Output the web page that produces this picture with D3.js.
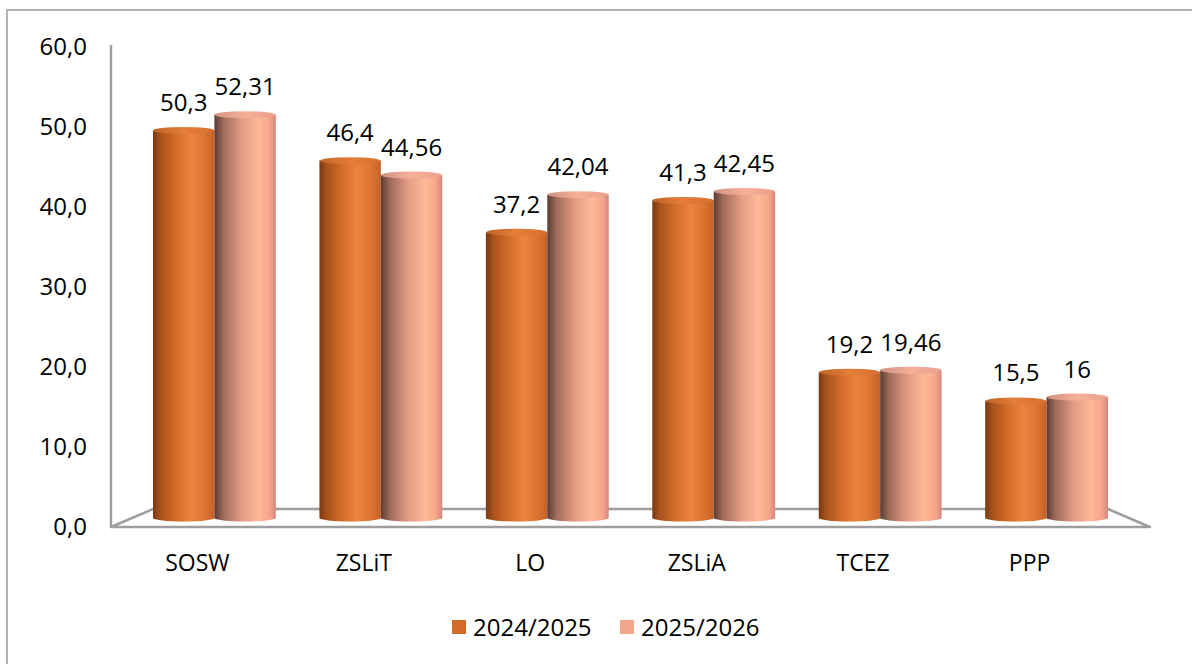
<!DOCTYPE html>
<html>
<head>
<meta charset="utf-8">
<script src="https://cdn.jsdelivr.net/npm/d3@7"></script>
<style>
  body { margin: 0; background: #fff; }
  text { font-family: "Open Sans", sans-serif; fill: #000; }
</style>
</head>
<body>
<script>
var categories = ["SOSW", "ZSLiT", "LO", "ZSLiA", "TCEZ", "PPP"];
var seriesNames = ["2024/2025", "2025/2026"];
var values2024 = [50.3, 46.4, 37.2, 41.3, 19.2, 15.5];
var values2025 = [52.31, 44.56, 42.04, 42.45, 19.46, 16];
var yTicks = [0, 10, 20, 30, 40, 50, 60];

var width = 1192, height = 664;

var svg = d3.select("body").append("svg")
    .attr("width", width)
    .attr("height", height);

// outer frame
svg.append("rect")
    .attr("x", 7).attr("y", 10)
    .attr("width", 1200).attr("height", 700)
    .attr("fill", "none")
    .attr("stroke", "#b3b3b3")
    .attr("stroke-width", 2);

var defs = svg.append("defs");

function grad(id, stops) {
    var g = defs.append("linearGradient").attr("id", id)
        .attr("x1", "0%").attr("x2", "100%").attr("y1", "0%").attr("y2", "0%");
    stops.forEach(function (s) {
        g.append("stop").attr("offset", s[0]).attr("stop-color", s[1]);
    });
}
grad("g1", [["0%", "#7a3810"], ["12%", "#a8521c"], ["35%", "#d06a28"], ["62%", "#ec853c"], ["85%", "#dc7230"], ["100%", "#c4622a"]]);
grad("g2", [["0%", "#5c3c32"], ["15%", "#a06c5c"], ["45%", "#e49c84"], ["72%", "#ffb898"], ["90%", "#f6a68a"], ["100%", "#d48680"]]);
grad("t1", [["0%", "#c06428"], ["50%", "#e47e3a"], ["100%", "#d47030"]]);
grad("t2", [["0%", "#d09280"], ["50%", "#f6b09a"], ["100%", "#eaa08a"]]);

// axis scale (front plane) and bar scale (mid depth)
var y = d3.scaleLinear().domain([0, 60]).range([527, 47]);
var yBar = d3.scaleLinear().domain([0, 60]).range([518, 51.5]);

var x = d3.scaleBand().domain(categories).range([153, 1108])
    .paddingInner(0.262).paddingOuter(0);
var xs = d3.scaleBand().domain([0, 1]).range([0, x.bandwidth()]);

// floor
var floorBack = 509;
var floor = [[111, y(0)], [153, floorBack], [1108, floorBack], [1150, y(0)]];
svg.append("path")
    .attr("d", d3.line()(floor) + "Z")
    .attr("fill", "#fff")
    .attr("stroke", "#9e9e9e")
    .attr("stroke-width", 2.5)
    .attr("stroke-linejoin", "round");

// y axis
var yAxis = svg.append("g")
    .attr("transform", "translate(111,0)")
    .call(d3.axisLeft(y).tickValues(yTicks).tickSize(0).tickPadding(24)
        .tickFormat(function (d) { return d3.format(".1f")(d).replace(".", ","); }));
yAxis.select(".domain").attr("stroke", "#9e9e9e").attr("stroke-width", 2.5)
    .attr("d", "M0," + (y(60) - 2) + "V" + y(0));
yAxis.selectAll("text").style("font-size", "24px").attr("fill", "#000");

// bars as cylinders
var series = [values2024, values2025];
var ry = 3.5;
series.forEach(function (vals, si) {
    var g = svg.append("g");
    categories.forEach(function (c, i) {
        var x0 = x(c) + xs(si);
        var w = xs.bandwidth();
        var cx = x0 + w / 2;
        var top = yBar(vals[i]) + ry;
        var bot = yBar(0);
        g.append("path")
            .attr("d", "M" + x0 + "," + top + "V" + bot +
                "A" + (w / 2) + "," + ry + " 0 0 0 " + (x0 + w) + "," + bot +
                "V" + top + "Z")
            .attr("fill", "url(#g" + (si + 1) + ")");
        g.append("ellipse")
            .attr("cx", cx).attr("cy", top)
            .attr("rx", w / 2).attr("ry", ry)
            .attr("fill", "url(#t" + (si + 1) + ")");
        g.append("text")
            .attr("x", cx)
            .attr("y", yBar(vals[i]) - 16)
            .attr("text-anchor", "middle")
            .style("font-size", "24px")
            .text(String(vals[i]).replace(".", ","));
    });
});

// category labels
svg.append("g").selectAll("text")
    .data(categories).join("text")
    .attr("x", function (d) { return x(d) + x.bandwidth() / 2 - 17; })
    .attr("y", 571)
    .attr("text-anchor", "middle")
    .style("font-size", "23px")
    .text(function (d) { return d; });

// legend
var legendColors = ["#d36b28", "#f2a68a"];
var legendX = [452, 620];
var legend = svg.append("g");
seriesNames.forEach(function (name, i) {
    legend.append("rect")
        .attr("x", legendX[i]).attr("y", 620)
        .attr("width", 14).attr("height", 14)
        .attr("fill", legendColors[i]);
    legend.append("text")
        .attr("x", legendX[i] + 21).attr("y", 636)
        .style("font-size", "24px")
        .text(name);
});
</script>
</body>
</html>
